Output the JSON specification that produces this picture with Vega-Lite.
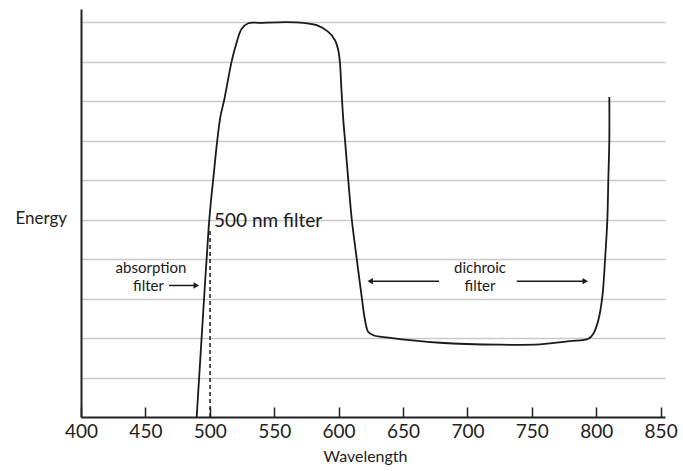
{
  "$schema": "https://vega.github.io/schema/vega-lite/v6.json",
  "width": 584,
  "height": 408,
  "autosize": {"type": "none"},
  "padding": {"left": 81, "top": 9, "right": 18, "bottom": 54},
  "config": {"view": {"stroke": null}, "font": "Lato"},
  "datasets": {
    "curve": [
      {"i": 1, "w": 489.83, "e": 0},
      {"i": 2, "w": 494.49, "e": 2.45},
      {"i": 3, "w": 499.15, "e": 4.81},
      {"i": 4, "w": 500.7, "e": 5.4},
      {"i": 5, "w": 502.72, "e": 6.04},
      {"i": 6, "w": 505.82, "e": 7.01},
      {"i": 7, "w": 508.2, "e": 7.6},
      {"i": 8, "w": 511.26, "e": 8.04},
      {"i": 9, "w": 517.0, "e": 9.01},
      {"i": 10, "w": 520.89, "e": 9.49},
      {"i": 11, "w": 524.77, "e": 9.83},
      {"i": 12, "w": 529.89, "e": 9.97},
      {"i": 13, "w": 538.98, "e": 9.98},
      {"i": 14, "w": 559.7, "e": 10.0},
      {"i": 15, "w": 572.59, "e": 9.98},
      {"i": 16, "w": 583.0, "e": 9.92},
      {"i": 17, "w": 592.0, "e": 9.75},
      {"i": 18, "w": 597.2, "e": 9.54},
      {"i": 19, "w": 599.77, "e": 9.28},
      {"i": 20, "w": 601.09, "e": 8.95},
      {"i": 21, "w": 602.1, "e": 8.35},
      {"i": 22, "w": 603.65, "e": 7.51},
      {"i": 23, "w": 604.97, "e": 7.01},
      {"i": 24, "w": 607.53, "e": 5.99},
      {"i": 25, "w": 610.17, "e": 5.02},
      {"i": 26, "w": 614.05, "e": 4.01},
      {"i": 27, "w": 617.93, "e": 3.04},
      {"i": 28, "w": 620.5, "e": 2.45},
      {"i": 29, "w": 623.06, "e": 2.15},
      {"i": 30, "w": 626.94, "e": 2.07},
      {"i": 31, "w": 638.59, "e": 2.01},
      {"i": 32, "w": 678.7, "e": 1.88},
      {"i": 33, "w": 725.3, "e": 1.83},
      {"i": 34, "w": 756.4, "e": 1.84},
      {"i": 35, "w": 779.66, "e": 1.92},
      {"i": 36, "w": 793.87, "e": 1.98},
      {"i": 37, "w": 797.75, "e": 2.11},
      {"i": 38, "w": 801.63, "e": 2.45},
      {"i": 39, "w": 804.74, "e": 3.04},
      {"i": 40, "w": 806.83, "e": 3.97},
      {"i": 41, "w": 808.62, "e": 4.98},
      {"i": 42, "w": 809.39, "e": 5.99},
      {"i": 43, "w": 810.17, "e": 7.01},
      {"i": 44, "w": 810.17, "e": 8.1}
    ],
    "arrows": [
      {"x1": 468.3, "x2": 490.0, "y": 3.33},
      {"x1": 624.0, "x2": 678.0, "y": 3.44},
      {"x1": 738.3, "x2": 792.0, "y": 3.44}
    ],
    "heads": [
      {"x": 489.5, "y": 3.33, "dir": "right"},
      {"x": 624.5, "y": 3.44, "dir": "left"},
      {"x": 791.5, "y": 3.44, "dir": "right"}
    ]
  },
  "layer": [
    {
      "data": {"name": "curve"},
      "mark": {"type": "line", "color": "#1a1a1a", "strokeWidth": 1.8, "interpolate": "catmull-rom"},
      "encoding": {
        "x": {
          "field": "w", "type": "quantitative",
          "scale": {"domain": [400, 853.4], "nice": false, "zero": false},
          "axis": {
            "values": [400, 450, 500, 550, 600, 650, 700, 750, 800, 850],
            "title": "Wavelength", "titleFontSize": 16, "titleFontWeight": "normal", "titleColor": "#222",
            "titleX": 284, "titleY": 39, "titleBaseline": "middle",
            "grid": false, "domainColor": "#222", "domainWidth": 2,
            "tickColor": "#222", "tickWidth": 1.5, "tickSize": -10,
            "labelFontSize": 19, "labelColor": "#222", "labelPadding": 15, "labelFlush": false
          }
        },
        "y": {
          "field": "e", "type": "quantitative",
          "scale": {"domain": [0, 10.33], "nice": false},
          "axis": {
            "values": [1, 2, 3, 4, 5, 6, 7, 8, 9, 10],
            "title": "Energy", "titleAngle": 0, "titleAlign": "left", "titleBaseline": "middle",
            "titleX": -66, "titleY": 209, "titleFontSize": 17, "titleFontWeight": "normal", "titleColor": "#222",
            "labels": false, "ticks": false,
            "domainColor": "#222", "domainWidth": 2,
            "grid": true, "gridColor": "#c9c9c9", "gridWidth": 1.5
          }
        },
        "order": {"field": "i", "type": "quantitative"}
      }
    },
    {
      "data": {"values": [{"x": 500.2, "y0": 0, "y1": 4.75}]},
      "mark": {"type": "rule", "color": "#1a1a1a", "strokeWidth": 1.5, "strokeDash": [4, 3]},
      "encoding": {
        "x": {"field": "x", "type": "quantitative"},
        "y": {"field": "y0", "type": "quantitative"},
        "y2": {"field": "y1"}
      }
    },
    {
      "data": {"name": "arrows"},
      "mark": {"type": "rule", "color": "#1a1a1a", "strokeWidth": 1.5},
      "encoding": {
        "x": {"field": "x1", "type": "quantitative"},
        "x2": {"field": "x2"},
        "y": {"field": "y", "type": "quantitative"}
      }
    },
    {
      "data": {"name": "heads"},
      "transform": [{"filter": "datum.dir == 'right'"}],
      "mark": {"type": "point", "shape": "triangle-right", "filled": true, "color": "#1a1a1a", "size": 40, "opacity": 1},
      "encoding": {
        "x": {"field": "x", "type": "quantitative"},
        "y": {"field": "y", "type": "quantitative"}
      }
    },
    {
      "data": {"name": "heads"},
      "transform": [{"filter": "datum.dir == 'left'"}],
      "mark": {"type": "point", "shape": "triangle-left", "filled": true, "color": "#1a1a1a", "size": 40, "opacity": 1},
      "encoding": {
        "x": {"field": "x", "type": "quantitative"},
        "y": {"field": "y", "type": "quantitative"}
      }
    },
    {
      "data": {"values": [{"x": 503.3, "y": 4.95, "t": "500 nm filter"}]},
      "mark": {"type": "text", "align": "left", "baseline": "middle", "fontSize": 19, "color": "#1a1a1a"},
      "encoding": {
        "x": {"field": "x", "type": "quantitative"},
        "y": {"field": "y", "type": "quantitative"},
        "text": {"field": "t"}
      }
    },
    {
      "data": {"values": [
        {"x": 454.3, "y": 3.76, "t": "absorption"},
        {"x": 709.8, "y": 3.76, "t": "dichroic"},
        {"x": 709.8, "y": 3.31, "t": "filter"}
      ]},
      "mark": {"type": "text", "align": "center", "baseline": "middle", "fontSize": 15, "color": "#1a1a1a"},
      "encoding": {
        "x": {"field": "x", "type": "quantitative"},
        "y": {"field": "y", "type": "quantitative"},
        "text": {"field": "t"}
      }
    },
    {
      "data": {"values": [{"x": 464.4, "y": 3.31, "t": "filter"}]},
      "mark": {"type": "text", "align": "right", "baseline": "middle", "fontSize": 15, "color": "#1a1a1a"},
      "encoding": {
        "x": {"field": "x", "type": "quantitative"},
        "y": {"field": "y", "type": "quantitative"},
        "text": {"field": "t"}
      }
    }
  ]
}
